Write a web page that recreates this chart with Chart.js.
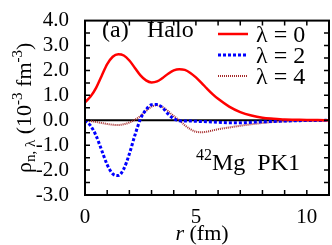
<!DOCTYPE html>
<html>
<head>
<meta charset="UTF-8">
<title>42Mg PK1 halo</title>
<script src="https://cdn.jsdelivr.net/npm/chart.js@4/dist/chart.umd.min.js"></script>
<style>
    html, body { margin: 0; padding: 0; background: #fff; }
    #wrap { width: 332px; height: 245px; }
</style>
</head>
<body>
<div id="wrap"><canvas id="grafico" width="332" height="245"></canvas></div>
<script>
// r em fm
const raio = [0, 0.25, 0.5, 0.75, 1, 1.25, 1.5, 1.75, 2, 2.25, 2.5, 2.75, 3, 3.25, 3.5, 3.75,
    4, 4.25, 4.5, 4.75, 5, 5.25, 5.5, 5.75, 6, 6.5, 7, 7.5, 8, 8.5, 9, 9.5, 10, 10.5, 11];
// densidades (10^-3 fm^-3)
const rhoL0 = [0.72, 0.95, 1.3, 1.78, 2.25, 2.55, 2.65, 2.6, 2.4, 2.1, 1.8, 1.6, 1.52, 1.56, 1.7, 1.87,
    2.0, 2.05, 2.02, 1.9, 1.72, 1.5, 1.27, 1.05, 0.86, 0.55, 0.33, 0.19, 0.1, 0.06, 0.03, 0.02, 0.01, 0.01, 0.0];
const rhoL2 = [0, -0.22, -0.62, -1.2, -1.78, -2.15, -2.22, -1.95, -1.35, -0.6, 0.05, 0.42, 0.62, 0.63, 0.5, 0.25,
    0.06, -0.02, -0.03, -0.03, -0.04, -0.05, -0.06, -0.07, -0.08, -0.1, -0.1, -0.08, -0.06, -0.05, -0.03, -0.02, -0.01, -0.01, 0];
const rhoL4 = [0, -0.03, -0.07, -0.11, -0.15, -0.18, -0.19, -0.16, -0.09, 0.02, 0.17, 0.37, 0.55, 0.6, 0.53, 0.36,
    0.17, 0.0, -0.2, -0.36, -0.46, -0.48, -0.46, -0.41, -0.36, -0.29, -0.22, -0.16, -0.11, -0.07, -0.05, -0.03, -0.02, -0.01, 0];
const legendas = ['λ = 0', 'λ = 2', 'λ = 4'];
const xTicks = [0, 5, 10];

const serif = "'Liberation Serif', 'DejaVu Serif', serif";
const pontos = arr => raio.map((r, i) => ({x: r, y: arr[i]}));

const estilos = [
    {cor: '#ff0000', larg: 2.5, dash: []},
    {cor: '#0000ff', larg: 3, dash: [3, 2]},
    {cor: '#a52a2a', larg: 2, dash: [1, 1]}
];

// texto com sub/sobrescrito
function textoRico(ctx, partes, x, y, centro) {
    let w = 0;
    partes.forEach(p => { ctx.font = p.f; w += ctx.measureText(p.t).width; });
    let cx = centro ? x - w / 2 : x;
    partes.forEach(p => {
        ctx.font = p.f;
        ctx.fillText(p.t, cx, y + (p.dy || 0));
        cx += ctx.measureText(p.t).width;
    });
}

// linha do zero, antes das curvas
const linhaZero = {
    id: 'linhaZero',
    beforeDatasetsDraw(chart) {
        const ctx = chart.ctx, a = chart.chartArea;
        const py = chart.scales.y.getPixelForValue(0);
        ctx.save();
        ctx.strokeStyle = '#000';
        ctx.lineWidth = 2;
        ctx.beginPath();
        ctx.moveTo(a.left, py); ctx.lineTo(a.right, py);
        ctx.stroke();
        ctx.restore();
    }
};

const extras = {
    id: 'extras',
    afterDraw(chart) {
        const ctx = chart.ctx;
        const a = chart.chartArea;
        const sx = chart.scales.x, sy = chart.scales.y;
        ctx.save();
        ctx.strokeStyle = '#000';
        ctx.lineWidth = 2;
        ctx.strokeRect(a.left, a.top, a.right - a.left, a.bottom - a.top);

        // ticks para dentro
        ctx.lineWidth = 1.5;
        ctx.beginPath();
        for (let v = 1; v <= 10; v++) {
            const px = sx.getPixelForValue(v);
            ctx.moveTo(px, a.bottom); ctx.lineTo(px, a.bottom - 5);
            ctx.moveTo(px, a.top); ctx.lineTo(px, a.top + 5);
        }
        for (let v = -2.5; v <= 3.5; v += 0.5) {
            const py = sy.getPixelForValue(v);
            ctx.moveTo(a.left, py); ctx.lineTo(a.left + 5, py);
            ctx.moveTo(a.right, py); ctx.lineTo(a.right - 5, py);
        }
        ctx.stroke();

        ctx.fillStyle = '#000';
        ctx.textBaseline = 'alphabetic';
        ctx.textAlign = 'left';

        // legenda
        legendas.forEach((txt, i) => {
            const yy = 34 + i * 21;
            const e = estilos[i];
            ctx.beginPath();
            ctx.strokeStyle = e.cor;
            ctx.lineWidth = e.larg;
            ctx.setLineDash(e.dash);
            ctx.moveTo(218, yy); ctx.lineTo(248, yy);
            ctx.stroke();
            ctx.setLineDash([]);
            ctx.font = '24px ' + serif;
            ctx.fillText(txt, 256, yy + 8);
        });

        ctx.font = '24px ' + serif;
        ctx.fillText('(a)', 102, 37);
        ctx.fillText('Halo', 147, 37);

        textoRico(ctx, [
            {t: '42', f: '16px ' + serif, dy: -10},
            {t: 'Mg  PK1', f: '24px ' + serif}
        ], 196, 170, false);

        // título x
        textoRico(ctx, [
            {t: 'r', f: 'italic 22px ' + serif},
            {t: ' (fm)', f: '22px ' + serif}
        ], 202, 240, true);

        // título y
        ctx.translate(31, (a.top + a.bottom) / 2);
        ctx.rotate(-Math.PI / 2);
        textoRico(ctx, [
            {t: 'ρ', f: '22px ' + serif},
            {t: 'n, λ', f: '15px ' + serif, dy: 4},
            {t: ' (10', f: '22px ' + serif},
            {t: '-3', f: '15px ' + serif, dy: -9},
            {t: ' fm', f: '22px ' + serif},
            {t: '-3', f: '15px ' + serif, dy: -9},
            {t: ')', f: '22px ' + serif}
        ], 0, 0, true);
        ctx.restore();
    }
};

new Chart(document.getElementById('grafico'), {
    type: 'line',
    data: {
        datasets: [pontos(rhoL0), pontos(rhoL2), pontos(rhoL4)].map((d, i) => ({
            label: legendas[i],
            data: d,
            borderColor: estilos[i].cor,
            borderWidth: estilos[i].larg,
            borderDash: estilos[i].dash,
            pointRadius: 0,
            fill: false,
            cubicInterpolationMode: 'monotone'
        }))
    },
    options: {
        responsive: false,
        animation: false,
        layout: {padding: {top: 7, right: 3, left: 0, bottom: 0}},
        plugins: {legend: {display: false}, tooltip: {enabled: false}},
        scales: {
            x: {
                type: 'linear', min: 0, max: 11,
                afterBuildTicks: s => { s.ticks = xTicks.map(v => ({value: v})); },
                afterFit: s => { s.height = 50; },
                grid: {display: false},
                border: {display: false},
                ticks: {color: '#000', font: {family: serif, size: 21}, padding: 2, maxRotation: 0, autoSkip: false}
            },
            y: {
                min: -3, max: 4,
                afterFit: s => { s.width = 85; },
                grid: {display: false},
                border: {display: false},
                ticks: {
                    stepSize: 1, color: '#000', padding: 8, autoSkip: false,
                    font: {family: serif, size: 21},
                    callback: v => v.toFixed(1)
                }
            }
        }
    },
    plugins: [linhaZero, extras]
});
</script>
</body>
</html>
